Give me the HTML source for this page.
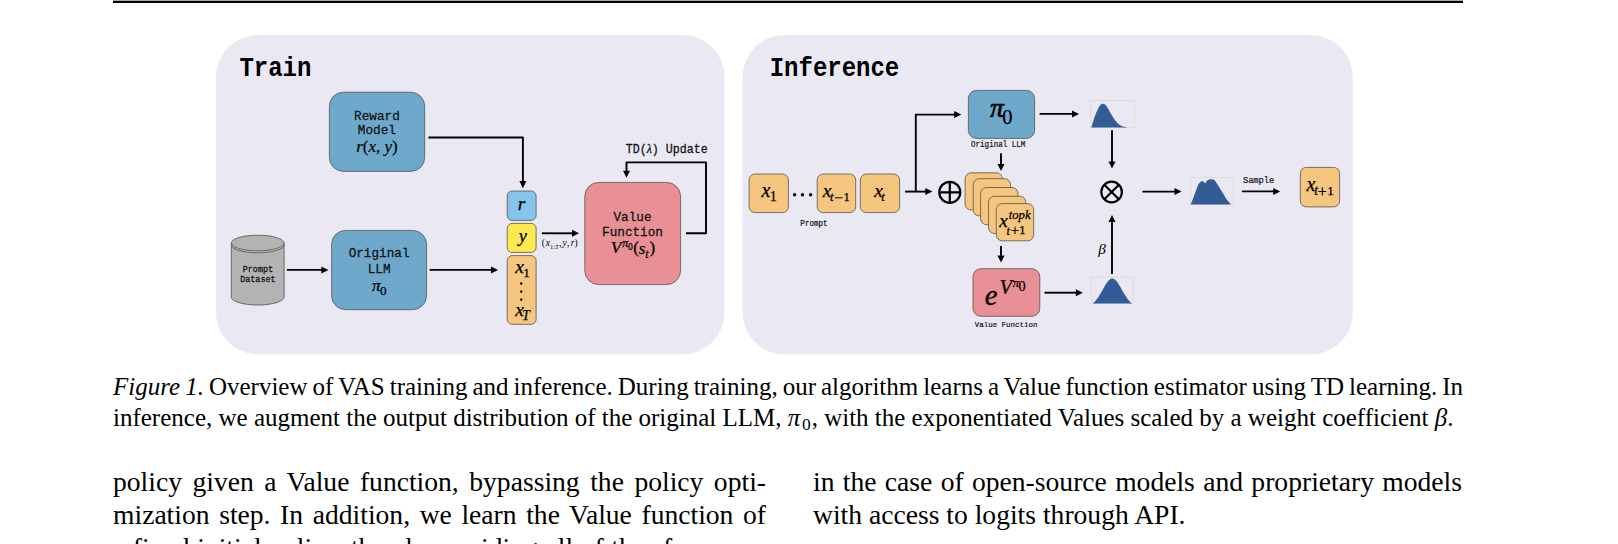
<!DOCTYPE html>
<html><head><meta charset="utf-8">
<style>
html,body{margin:0;padding:0;background:#fff;width:1618px;height:544px;overflow:hidden;position:relative}
svg{position:absolute;left:0;top:0}
.mono{font-family:"Liberation Mono",monospace}
.ser{font-family:"Liberation Serif",serif}
.ln{position:absolute;font-family:"Liberation Serif",serif;color:#000;white-space:nowrap;text-align:justify;text-align-last:justify}
.cap{font-size:25px;line-height:30px;left:113px;width:1350px}
.body{font-size:27.6px;line-height:34px}
</style></head>
<body>
<svg width="1618" height="544" viewBox="0 0 1618 544">
<!-- top rule -->
<rect x="113" y="0" width="1350" height="1" fill="#a8a8a8"/>
<rect x="113" y="1" width="1350" height="2" fill="#000"/>

<!-- panels -->
<rect x="216" y="35" width="508.5" height="319.5" rx="42" fill="#eae9f3"/>
<rect x="742.6" y="35" width="610.2" height="319.5" rx="42" fill="#eae9f3"/>

<g font-family="Liberation Mono" font-weight="bold" font-size="24">
<text transform="translate(239.4,76) scale(1,1.13)">Train</text>
<text transform="translate(769.7,76) scale(1,1.13)">Inference</text>
</g>

<!-- ============ TRAIN ============ -->
<g stroke="#5a534c" stroke-width="0.8">
<rect x="329.4" y="92.2" width="95.3" height="79.2" rx="14" fill="#6ea9cc"/>
<rect x="331.6" y="230.4" width="95" height="79.3" rx="14" fill="#6ea9cc"/>
<rect x="507.2" y="191" width="28.9" height="29.4" rx="5" fill="#87c4ec"/>
<rect x="507.2" y="223.4" width="28.9" height="29" rx="5" fill="#fde94e"/>
<rect x="507.2" y="255.6" width="28.9" height="68.7" rx="5" fill="#f5c67f"/>
<rect x="584.8" y="182.4" width="95.8" height="102.2" rx="14" fill="#e89096"/>
</g>

<!-- cylinder -->
<g stroke="#6a6a6a" stroke-width="1" fill="#b3b3b3">
<path d="M231.3,243 L231.3,297 A26.4,8 0 0 0 284.1,297 L284.1,243 Z"/>
<ellipse cx="257.7" cy="243" rx="26.4" ry="7.8"/>
<path d="M231.3,245 A26.4,7.8 0 0 0 284.1,245" fill="none"/>
</g>

<g font-family="Liberation Mono" fill="#111" stroke="#111" stroke-width="0.25" text-anchor="middle">
<text font-size="12.7" transform="translate(376.9,119.9) scale(1,1.06)">Reward</text>
<text font-size="12.7" transform="translate(376.9,134.4) scale(1,1.06)">Model</text>
<text font-size="12.7" transform="translate(379.1,257.4) scale(1,1.06)">Original</text>
<text font-size="12.7" transform="translate(379.1,272.8) scale(1,1.06)">LLM</text>
<text font-size="12.7" transform="translate(632.5,220.7) scale(1,1.06)">Value</text>
<text font-size="12.7" transform="translate(632.5,235.7) scale(1,1.06)">Function</text>
<text font-size="8.45" transform="translate(257.9,272) scale(1,1.06)">Prompt</text>
<text font-size="8.45" transform="translate(257.9,281.8) scale(1,1.06)">Dataset</text>
<text font-size="11.65" transform="translate(666.7,152.6) scale(1,1.06)">TD(<tspan font-family="Liberation Serif" font-style="italic">λ</tspan>) Update</text>
</g>

<g fill="#000">
<circle cx="521.2" cy="283.5" r="1.2"/><circle cx="521.2" cy="291.6" r="1.2"/><circle cx="521.2" cy="299.6" r="1.2"/>
</g>

<!-- train arrows -->
<g stroke="#000" stroke-width="1.9" fill="none" stroke-linejoin="round">
<path d="M286.9,269.9 H322"/>
<path d="M429.6,269.9 H492"/>
<path d="M428.4,137.5 H522.9 V182"/>
<path d="M541.9,233.3 H573"/>
<path d="M686,233.3 H706 V162.4 H626.5 V171"/>
</g>
<g fill="#000">
<path d="M321.3,266.4 L328.5,269.9 L321.3,273.4 Z"/>
<path d="M491,266.4 L498.1,269.9 L491,273.4 Z"/>
<path d="M519.4,181 L522.9,188.3 L526.4,181 Z"/>
<path d="M572,229.8 L579.1,233.3 L572,236.8 Z"/>
<path d="M623,170.7 L626.5,177.7 L630,170.7 Z"/>
</g>

<!-- ============ INFERENCE ============ -->
<g stroke="#5a534c" stroke-width="0.8">
<rect x="749.1" y="174" width="39.3" height="38.6" rx="6" fill="#f5c67f"/>
<rect x="817.2" y="174" width="38.5" height="38.6" rx="6" fill="#f5c67f"/>
<rect x="860.3" y="174" width="39.3" height="38.6" rx="6" fill="#f5c67f"/>
<rect x="968.4" y="90.4" width="66.2" height="48" rx="8" fill="#6ea9cc"/>
<rect x="965.1" y="172.8" width="37.4" height="37.2" rx="6" fill="#f5c67f"/>
<rect x="973.2" y="178.7" width="37.4" height="37.2" rx="6" fill="#f5c67f"/>
<rect x="980.6" y="187.5" width="37.4" height="37.2" rx="6" fill="#f5c67f"/>
<rect x="988.5" y="196.3" width="37.4" height="37.2" rx="6" fill="#f5c67f"/>
<rect x="996.3" y="203.6" width="37.4" height="37.2" rx="6" fill="#f5c67f"/>
<rect x="973" y="268.7" width="66.8" height="47.6" rx="8" fill="#e89096"/>
<rect x="1300.3" y="167.4" width="39.3" height="39.5" rx="6" fill="#f5c67f"/>
</g>
<g fill="#000">
<circle cx="794.6" cy="194.8" r="1.7"/><circle cx="802.5" cy="194.8" r="1.7"/><circle cx="810.6" cy="194.8" r="1.7"/>
</g>
<g font-family="Liberation Mono" fill="#111" stroke="#111" stroke-width="0.18" text-anchor="middle">
<text font-size="7.6" transform="translate(814,225.7) scale(1,1.08)">Prompt</text>
<text font-size="7.57" transform="translate(998.2,146.7) scale(1,1.08)">Original LLM</text>
<text font-size="7.47" transform="translate(1006.1,327.3) scale(1,1.08)">Value Function</text>
<text font-size="8.74" transform="translate(1258.6,182.6) scale(1,1.08)">Sample</text>
</g>
<!-- circled ops -->
<g stroke="#000" stroke-width="2.2" fill="none">
<circle cx="949.8" cy="192.3" r="10.5"/>
<path d="M939.3,192.3 H960.3 M949.8,181.8 V202.8"/>
<circle cx="1111.6" cy="192" r="10.3"/>
<path d="M1104.3,184.7 L1118.9,199.3 M1118.9,184.7 L1104.3,199.3"/>
</g>

<!-- distributions -->
<g fill="none" stroke="#dcd8c8" stroke-width="0.7">
<rect x="1090.5" y="100.3" width="43.9" height="27.2"/>
<rect x="1091.5" y="277.2" width="41.9" height="26.3"/>
<rect x="1190.3" y="177.4" width="42.9" height="27"/>
</g>
<g fill="#335c97">
<path d="M1091.30,127.40 C1091.85,125.67 1093.50,120.07 1094.60,117.00 C1095.70,113.93 1096.92,111.00 1097.90,109.00 C1098.88,107.00 1099.65,105.87 1100.50,105.00 C1101.35,104.13 1102.17,103.80 1103.00,103.80 C1103.83,103.80 1104.70,104.27 1105.50,105.00 C1106.30,105.73 1106.57,106.20 1107.80,108.20 C1109.03,110.20 1111.18,114.42 1112.90,117.00 C1114.62,119.58 1116.38,122.10 1118.10,123.70 C1119.82,125.30 1121.73,125.98 1123.20,126.60 C1124.67,127.22 1126.28,127.27 1126.90,127.40 Z"/>
<path d="M1092.90,303.40 C1093.06,303.24 1093.55,302.75 1093.88,302.43 C1094.21,302.10 1094.53,301.81 1094.86,301.48 C1095.19,301.14 1095.51,300.78 1095.84,300.40 C1096.17,300.02 1096.49,299.61 1096.82,299.19 C1097.15,298.76 1097.47,298.32 1097.80,297.85 C1098.13,297.38 1098.45,296.89 1098.78,296.39 C1099.11,295.88 1099.43,295.36 1099.76,294.82 C1100.09,294.28 1100.41,293.73 1100.74,293.16 C1101.07,292.60 1101.39,292.02 1101.72,291.44 C1102.05,290.87 1102.37,290.27 1102.70,289.69 C1103.03,289.10 1103.35,288.51 1103.68,287.93 C1104.01,287.36 1104.33,286.78 1104.66,286.22 C1104.99,285.66 1105.31,285.11 1105.64,284.58 C1105.97,284.06 1106.29,283.54 1106.62,283.07 C1106.95,282.59 1107.27,282.13 1107.60,281.71 C1107.93,281.29 1108.25,280.90 1108.58,280.56 C1108.91,280.21 1109.23,279.90 1109.56,279.64 C1109.89,279.37 1110.21,279.15 1110.54,278.97 C1110.87,278.80 1111.19,278.67 1111.52,278.59 C1111.85,278.52 1112.17,278.49 1112.50,278.51 C1112.83,278.53 1113.15,278.60 1113.48,278.71 C1113.81,278.83 1114.13,279.00 1114.46,279.21 C1114.79,279.42 1115.11,279.68 1115.44,279.98 C1115.77,280.28 1116.09,280.63 1116.42,281.00 C1116.75,281.38 1117.07,281.80 1117.40,282.24 C1117.73,282.69 1118.05,283.17 1118.38,283.67 C1118.71,284.17 1119.03,284.70 1119.36,285.24 C1119.69,285.78 1120.01,286.34 1120.34,286.91 C1120.67,287.48 1120.99,288.07 1121.32,288.65 C1121.65,289.23 1121.97,289.82 1122.30,290.41 C1122.63,290.99 1122.95,291.58 1123.28,292.15 C1123.61,292.73 1123.93,293.30 1124.26,293.85 C1124.59,294.40 1124.91,294.95 1125.24,295.47 C1125.57,296.00 1125.89,296.51 1126.22,297.00 C1126.55,297.49 1126.87,297.96 1127.20,298.41 C1127.53,298.86 1127.85,299.29 1128.18,299.70 C1128.51,300.11 1128.83,300.49 1129.16,300.85 C1129.49,301.22 1129.81,301.56 1130.14,301.88 C1130.47,302.20 1130.79,302.52 1131.12,302.78 C1131.45,303.03 1131.94,303.30 1132.10,303.40 Z"/>
<path d="M1190.90,204.40 C1191.52,202.72 1193.38,197.58 1194.60,194.30 C1195.82,191.02 1197.05,186.88 1198.20,184.70 C1199.35,182.52 1200.62,181.72 1201.50,181.20 C1202.38,180.68 1202.88,181.27 1203.50,181.60 C1204.12,181.93 1204.53,183.42 1205.20,183.20 C1205.87,182.98 1206.52,180.97 1207.50,180.30 C1208.48,179.63 1210.02,179.28 1211.10,179.20 C1212.18,179.12 1213.08,179.18 1214.00,179.80 C1214.92,180.42 1215.30,180.98 1216.60,182.90 C1217.90,184.82 1220.20,188.67 1221.80,191.30 C1223.40,193.93 1224.67,196.52 1226.20,198.70 C1227.73,200.88 1230.20,203.45 1231.00,204.40 Z"/>
</g>

<!-- inference arrows -->
<g stroke="#000" stroke-width="1.9" fill="none" stroke-linejoin="round">
<path d="M905.1,191.6 H926"/>
<path d="M915.8,191.6 V114.6 H955"/>
<path d="M1001,153.3 V165"/>
<path d="M1001,246 V256"/>
<path d="M1039.6,113.9 H1073"/>
<path d="M1112,130.2 V162"/>
<path d="M1044.5,292.7 H1076"/>
<path d="M1112,274.1 V222"/>
<path d="M1142.4,191.6 H1175"/>
<path d="M1241.9,191.4 H1274"/>
</g>
<g fill="#000">
<path d="M925.3,188.1 L932.4,191.6 L925.3,195.1 Z"/>
<path d="M954.2,111.1 L961.3,114.6 L954.2,118.1 Z"/>
<path d="M997.5,164 L1001,171 L1004.5,164 Z"/>
<path d="M997.5,255.6 L1001,262.6 L1004.5,255.6 Z"/>
<path d="M1072,110.4 L1079,113.9 L1072,117.4 Z"/>
<path d="M1108.5,161.6 L1112,168.6 L1115.5,161.6 Z"/>
<path d="M1075.9,289.2 L1082.9,292.7 L1075.9,296.2 Z"/>
<path d="M1108.5,222.1 L1112,215.1 L1115.5,222.1 Z"/>
<path d="M1174.5,188.1 L1181.5,191.6 L1174.5,195.1 Z"/>
<path d="M1273.2,187.9 L1280.2,191.4 L1273.2,194.9 Z"/>
</g>
<g fill="#000">
<text x="377" y="151.9" font-size="17" text-anchor="middle" font-family="Liberation Serif" stroke="#000" stroke-width="0.2"><tspan font-style="italic">r</tspan>(<tspan font-style="italic">x</tspan>, <tspan font-style="italic">y</tspan>)</text>
<text x="371.91" y="290.53" font-size="17.25" font-family="Liberation Serif" font-style="italic" stroke="#000" stroke-width="0.25">π</text>
<text x="380.05" y="294.76" font-size="13.20" font-family="Liberation Serif" stroke="#000" stroke-width="0.25">0</text>
<text x="517.80" y="210.00" font-size="19.50" font-family="Liberation Serif" font-style="italic" stroke="#000" stroke-width="0.25">r</text>
<text x="518.66" y="242.15" font-size="18.40" font-family="Liberation Serif" font-style="italic" stroke="#000" stroke-width="0.25">y</text>
<text x="515.20" y="272.90" font-size="19.60" font-family="Liberation Serif" font-style="italic" stroke="#000" stroke-width="0.25">x</text>
<text x="523.13" y="276.60" font-size="13.18" font-family="Liberation Serif" stroke="#000" stroke-width="0.25">1</text>
<text x="515.20" y="316.10" font-size="19.60" font-family="Liberation Serif" font-style="italic" stroke="#000" stroke-width="0.25">x</text>
<text x="522.09" y="319.75" font-size="14.04" font-family="Liberation Serif" font-style="italic" stroke="#000" stroke-width="0.25">T</text>
<text x="541.80" y="245.80" font-size="9.50" font-family="Liberation Serif">(</text>
<text x="545.85" y="246.00" font-size="9.80" font-family="Liberation Serif" font-style="italic">x</text>
<text x="550.00" y="248.70" font-size="6.50" font-family="Liberation Serif">1:</text>
<text x="555.10" y="248.70" font-size="6.50" font-family="Liberation Serif" font-style="italic">T</text>
<text x="559.30" y="246.00" font-size="9.50" font-family="Liberation Serif">,</text>
<text x="562.60" y="246.00" font-size="9.50" font-family="Liberation Serif" font-style="italic">y</text>
<text x="567.00" y="246.00" font-size="9.50" font-family="Liberation Serif">,</text>
<text x="570.80" y="246.00" font-size="9.50" font-family="Liberation Serif" font-style="italic">r</text>
<text x="574.60" y="245.80" font-size="9.50" font-family="Liberation Serif">)</text>
<text x="610.86" y="253.45" font-size="17.50" font-family="Liberation Serif" font-style="italic" stroke="#000" stroke-width="0.25">V</text>
<text x="622.24" y="246.68" font-size="12.22" font-family="Liberation Serif" font-style="italic" stroke="#000" stroke-width="0.25">π</text>
<text x="628.12" y="250.01" font-size="9.48" font-family="Liberation Serif" stroke="#000" stroke-width="0.25">0</text>
<text x="633.23" y="253.14" font-size="17.03" font-family="Liberation Serif" stroke="#000" stroke-width="0.25">(</text>
<text x="638.82" y="253.52" font-size="17.00" font-family="Liberation Serif" font-style="italic" stroke="#000" stroke-width="0.25">s</text>
<text x="645.34" y="257.78" font-size="12.35" font-family="Liberation Serif" font-style="italic" stroke="#000" stroke-width="0.25">t</text>
<text x="649.39" y="253.14" font-size="17.03" font-family="Liberation Serif" stroke="#000" stroke-width="0.25">)</text>
<text x="761.40" y="196.90" font-size="20.00" font-family="Liberation Serif" font-style="italic" stroke="#000" stroke-width="0.25">x</text>
<text x="769.80" y="201.30" font-size="14.09" font-family="Liberation Serif" stroke="#000" stroke-width="0.25">1</text>
<text x="822.74" y="196.80" font-size="19.56" font-family="Liberation Serif" font-style="italic" stroke="#000" stroke-width="0.25">x</text>
<text x="830.02" y="200.87" font-size="12.87" font-family="Liberation Serif" font-style="italic" stroke="#000" stroke-width="0.25">t</text>
<text x="843.62" y="201.00" font-size="12.73" font-family="Liberation Serif" stroke="#000" stroke-width="0.25">1</text>
<text x="874.19" y="196.80" font-size="19.56" font-family="Liberation Serif" font-style="italic" stroke="#000" stroke-width="0.25">x</text>
<text x="881.22" y="200.87" font-size="12.87" font-family="Liberation Serif" font-style="italic" stroke="#000" stroke-width="0.25">t</text>
<text x="1306.40" y="190.90" font-size="20.12" font-family="Liberation Serif" font-style="italic" stroke="#000" stroke-width="0.25">x</text>
<text x="1314.19" y="194.66" font-size="13.57" font-family="Liberation Serif" font-style="italic" stroke="#000" stroke-width="0.25">t</text>
<text x="1317.80" y="197.30" font-size="16.00" font-family="Liberation Serif" stroke="#000" stroke-width="0.25">+</text>
<text x="1327.18" y="194.80" font-size="13.18" font-family="Liberation Serif" stroke="#000" stroke-width="0.25">1</text>
<rect x="834.8" y="197.4" width="7.9" height="0.9" fill="#000"/>
<text x="989.96" y="116.92" font-size="27.75" font-family="Liberation Serif" font-style="italic" stroke="#000" stroke-width="0.6">π</text>
<text x="1002.16" y="123.99" font-size="20.50" font-family="Liberation Serif" stroke="#000" stroke-width="0.25">0</text>
<text x="999.19" y="226.50" font-size="19.35" font-family="Liberation Serif" font-style="italic" stroke="#000" stroke-width="0.25">x</text>
<text x="1008.73" y="218.67" font-size="12.69" font-family="Liberation Serif" font-style="italic" stroke="#000" stroke-width="0.25">topk</text>
<text x="1006.54" y="234.57" font-size="12.52" font-family="Liberation Serif" font-style="italic" stroke="#000" stroke-width="0.25">t</text>
<text x="1010.65" y="234.50" font-size="15.00" font-family="Liberation Serif" stroke="#000" stroke-width="0.25">+</text>
<text x="1019.07" y="234.40" font-size="13.33" font-family="Liberation Serif" stroke="#000" stroke-width="0.25">1</text>
<text x="984.80" y="304.81" font-size="28.60" font-family="Liberation Serif" font-style="italic" stroke="#000" stroke-width="0.35">e</text>
<text x="999.57" y="294.09" font-size="20.54" font-family="Liberation Serif" font-style="italic" stroke="#000" stroke-width="0.25">V</text>
<text x="1012.74" y="286.77" font-size="12.94" font-family="Liberation Serif" font-style="italic" stroke="#000" stroke-width="0.25">π</text>
<text x="1018.43" y="291.46" font-size="14.22" font-family="Liberation Serif" stroke="#000" stroke-width="0.25">0</text>
<text x="1098.13" y="254.23" font-size="15.22" font-family="Liberation Serif" font-style="italic">β</text>
</g>
</svg>

<!-- caption -->
<div class="ln cap" style="top:372px;word-spacing:-2px"><i>Figure 1.</i> Overview of VAS training and inference. During training, our algorithm learns a Value function estimator using TD learning. In</div>
<div class="ln cap" style="top:403px;text-align-last:left">inference, we augment the output distribution of the original LLM, <i>π</i><span style="font-size:17.5px;position:relative;top:3.5px;margin-left:1.5px;margin-right:1px">0</span>, with the exponentiated Values scaled by a weight coefficient <i>β</i>.</div>

<!-- body -->
<div class="ln body" style="top:464.8px;left:113px;width:653px">policy given a Value function, bypassing the policy opti-</div>
<div class="ln body" style="top:497.8px;left:113px;width:653px">mization step. In addition, we learn the Value function of</div>
<div class="ln body" style="top:531.1px;left:113px;width:532px">a fixed initial policy, thereby avoiding all of the</div>
<div class="ln body" style="top:531.1px;left:663px;text-align-last:left">former</div>
<div class="ln body" style="top:464.8px;left:813px;width:649px">in the case of open-source models and proprietary models</div>
<div class="ln body" style="top:497.8px;left:813px;width:649px;text-align-last:left">with access to logits through API.</div>
</body></html>
